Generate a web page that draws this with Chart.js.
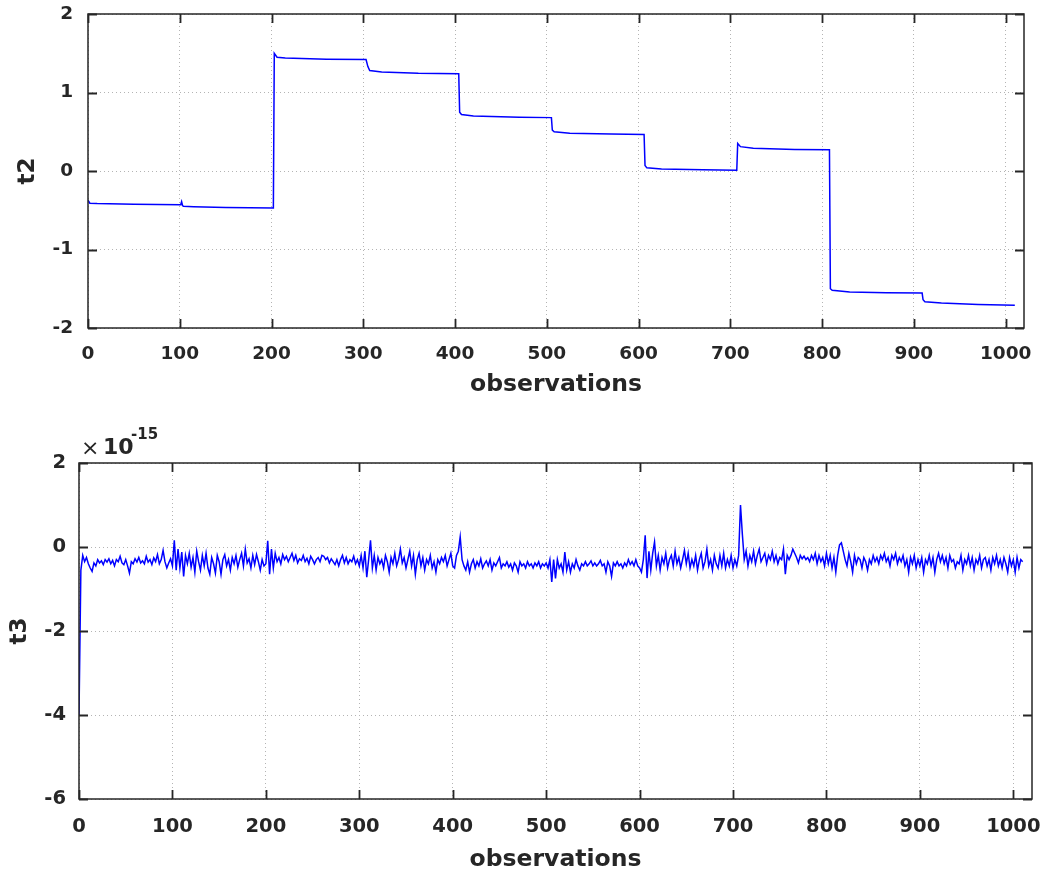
<!DOCTYPE html>
<html>
<head>
<meta charset="utf-8">
<script src="https://cdn.jsdelivr.net/npm/chart.js@4.4.0/dist/chart.umd.min.js"></script>
<style>
  html, body { margin: 0; padding: 0; background: #fff; }
  body { width: 1047px; height: 874px; position: relative; overflow: hidden; }
  canvas { position: absolute; left: 0; }
  #c1 { top: 0; }
  #c2 { top: 400px; }
  .exp { position: absolute; font-family: "DejaVu Sans", sans-serif; color: #262626; white-space: nowrap; }
</style>
</head>
<body>
<canvas id="c1" width="1047" height="400"></canvas>
<canvas id="c2" width="1047" height="474"></canvas>
<div class="exp" style="left:81px; top:436px; font-size:22px; line-height:24px;">×</div>
<div class="exp" style="left:103px; top:435px; font-size:22px; line-height:24px; font-weight:bold;">10</div>
<div class="exp" style="left:131px; top:426px; font-size:15px; line-height:16px; font-weight:bold;">-15</div>
<script>
// ---------- DATA ----------
const xTickValues = [0, 100, 200, 300, 400, 500, 600, 700, 800, 900, 1000];
const t2YTicks = [-2, -1, 0, 1, 2];
const t3YTicks = [-6, -4, -2, 0, 2];

const t2Obs = [0, 2, 10, 50, 101, 102, 103, 104, 115, 150, 202, 203, 206, 215, 260, 303, 305, 307, 320, 360, 404, 405, 407, 420, 470, 505, 506, 508, 525, 570, 606, 607, 609, 625, 670, 707, 708, 711, 725, 770, 808, 809, 811, 830, 870, 909, 910, 912, 930, 970, 1010];
const t2Values = [-0.37, -0.41, -0.415, -0.425, -0.43, -0.39, -0.44, -0.45, -0.455, -0.465, -0.47, 1.50, 1.45, 1.44, 1.425, 1.42, 1.33, 1.28, 1.26, 1.245, 1.24, 0.75, 0.72, 0.70, 0.685, 0.68, 0.52, 0.50, 0.48, 0.47, 0.465, 0.07, 0.04, 0.025, 0.015, 0.01, 0.35, 0.31, 0.29, 0.275, 0.27, -1.50, -1.52, -1.54, -1.55, -1.555, -1.64, -1.665, -1.68, -1.70, -1.71];

// t3 (x 1e-15): values every 2 observations starting at 0
const t3Step = 2;
const t3Values = [
  -4.0, -0.55, -0.2, -0.35, -0.25, -0.4, -0.5, -0.58, -0.38, -0.45,
  -0.3, -0.38, -0.33, -0.42, -0.3, -0.36, -0.28, -0.4, -0.32, -0.45,
  -0.3, -0.35, -0.22, -0.38, -0.42, -0.3, -0.45, -0.62, -0.35, -0.4,
  -0.28, -0.36, -0.25, -0.38, -0.33, -0.4, -0.22, -0.36, -0.3, -0.42,
  -0.26, -0.35, -0.18, -0.4, -0.3, -0.08, -0.35, -0.5, -0.38, -0.28,
  -0.45, 0.16, -0.55, -0.05, -0.5, -0.12, -0.7, -0.2, -0.4, -0.15,
  -0.48, -0.25, -0.6, -0.1, -0.35, -0.55, -0.2, -0.45, -0.15, -0.5,
  -0.65, -0.25, -0.4, -0.62, -0.2, -0.35, -0.65, -0.3, -0.18, -0.45,
  -0.3, -0.55, -0.25, -0.4, -0.2, -0.48, -0.3, -0.15, -0.45, -0.05,
  -0.38, -0.28, -0.5, -0.2, -0.42, -0.18, -0.35, -0.55, -0.3, -0.45,
  -0.4, 0.15, -0.65, -0.05, -0.5, -0.15, -0.35, -0.25, -0.4, -0.18,
  -0.3, -0.22, -0.35, -0.25, -0.15, -0.32, -0.2, -0.38, -0.28, -0.32,
  -0.2, -0.35, -0.27, -0.4, -0.22, -0.3, -0.4, -0.3, -0.25, -0.35,
  -0.2, -0.22, -0.3, -0.25, -0.38, -0.28, -0.35, -0.42, -0.3, -0.45,
  -0.3, -0.2, -0.38, -0.25, -0.4, -0.3, -0.35, -0.22, -0.4, -0.3,
  -0.45, -0.2, -0.5, -0.1, -0.72, -0.3, 0.16, -0.5, -0.2, -0.55,
  -0.25, -0.4, -0.3, -0.5, -0.2, -0.35, -0.6, -0.25, -0.4, -0.15,
  -0.45, -0.3, -0.05, -0.38, -0.25, -0.5, -0.3, -0.1, -0.45, -0.2,
  -0.65, -0.3, -0.15, -0.45, -0.25, -0.55, -0.3, -0.4, -0.2, -0.5,
  -0.35, -0.6, -0.3, -0.4, -0.25, -0.35, -0.2, -0.45, -0.3, -0.15,
  -0.45, -0.5, -0.2, -0.1, 0.24, -0.3, -0.45, -0.55, -0.35, -0.6,
  -0.4, -0.3, -0.5, -0.35, -0.45, -0.28, -0.5, -0.4, -0.33, -0.45,
  -0.3, -0.55, -0.38, -0.45, -0.35, -0.25, -0.5, -0.4, -0.45, -0.35,
  -0.48, -0.4, -0.55, -0.38, -0.45, -0.6, -0.35, -0.45, -0.4, -0.5,
  -0.35, -0.45, -0.4, -0.5, -0.38, -0.45, -0.35, -0.5, -0.4, -0.45,
  -0.38, -0.5, -0.3, -0.83, -0.3, -0.75, -0.3, -0.5, -0.4, -0.6,
  -0.12, -0.55, -0.35, -0.6, -0.4, -0.5, -0.3, -0.45, -0.55, -0.4,
  -0.45, -0.35, -0.45, -0.4, -0.33, -0.45, -0.38, -0.45, -0.4, -0.32,
  -0.45, -0.4, -0.6, -0.35, -0.45, -0.7, -0.38, -0.45, -0.35, -0.45,
  -0.4, -0.5, -0.38, -0.45, -0.3, -0.42, -0.35, -0.45, -0.3, -0.45,
  -0.5, -0.6, -0.3, 0.28, -0.74, -0.1, -0.55, -0.15, 0.12, -0.45,
  -0.2, -0.55, -0.25, -0.4, -0.15, -0.5, -0.3, -0.2, -0.45, -0.1,
  -0.4, -0.25, -0.5, -0.3, -0.08, -0.4, -0.15, -0.5, -0.3, -0.45,
  -0.2, -0.55, -0.3, -0.15, -0.5, -0.35, -0.05, -0.45, -0.3, -0.55,
  -0.2, -0.4, -0.5, -0.2, -0.45, -0.15, -0.5, -0.3, -0.45, -0.2,
  -0.5, -0.3, -0.45, -0.2, 1.0, 0.3, -0.3, -0.1, -0.45, -0.2,
  -0.35, -0.1, -0.4, -0.2, -0.05, -0.35, -0.25, -0.15, -0.4, -0.2,
  -0.3, -0.1, -0.35, -0.2, -0.4, -0.25, -0.3, -0.05, -0.65, -0.2,
  -0.3, -0.2, -0.05, -0.15, -0.25, -0.38, -0.2, -0.28, -0.22, -0.3,
  -0.25, -0.35, -0.2, -0.3, -0.15, -0.4, -0.2, -0.35, -0.25, -0.45,
  -0.15, -0.4, -0.2, -0.5, -0.25, -0.6, -0.2, 0.05, 0.1, -0.1,
  -0.3, -0.45, -0.15, -0.35, -0.6, -0.2, -0.4, -0.25, -0.3, -0.5,
  -0.25, -0.35, -0.55, -0.3, -0.4, -0.2, -0.35, -0.25, -0.4, -0.2,
  -0.3, -0.15, -0.35, -0.25, -0.45, -0.2, -0.3, -0.15, -0.4, -0.25,
  -0.35, -0.2, -0.45, -0.3, -0.6, -0.25, -0.4, -0.2, -0.5, -0.3,
  -0.45, -0.25, -0.6, -0.3, -0.4, -0.2, -0.45, -0.25, -0.6, -0.3,
  -0.15, -0.35, -0.2, -0.4, -0.25, -0.5, -0.2, -0.35, -0.3, -0.5,
  -0.35, -0.4, -0.2, -0.55, -0.3, -0.4, -0.2, -0.45, -0.25, -0.55,
  -0.3, -0.4, -0.2, -0.5, -0.3, -0.25, -0.45, -0.3, -0.55, -0.25,
  -0.4, -0.2, -0.45, -0.3, -0.5, -0.25, -0.4, -0.6, -0.25, -0.45,
  -0.3, -0.6, -0.25, -0.5, -0.3, -0.35
];

// ---------- STYLE / HELPERS ----------
const AXIS_COLOR = '#262626';
const FONT = '"DejaVu Sans", sans-serif';

const boxPlugin = {
  id: 'matlabBox',
  afterDraw(chart) {
    const {ctx, chartArea: a, scales} = chart;
    ctx.save();
    ctx.strokeStyle = AXIS_COLOR;
    ctx.lineWidth = 1.5;
    ctx.strokeRect(a.left, a.top, a.right - a.left, a.bottom - a.top);
    const tl = 9;
    ctx.beginPath();
    scales.x.ticks.forEach(t => {
      const px = Math.round(scales.x.getPixelForValue(t.value)) + 0.5;
      ctx.moveTo(px, a.bottom); ctx.lineTo(px, a.bottom - tl);
      ctx.moveTo(px, a.top); ctx.lineTo(px, a.top + tl);
    });
    scales.y.ticks.forEach(t => {
      const py = Math.round(scales.y.getPixelForValue(t.value)) + 0.5;
      ctx.moveTo(a.left, py); ctx.lineTo(a.left + tl, py);
      ctx.moveTo(a.right, py); ctx.lineTo(a.right - tl, py);
    });
    ctx.lineWidth = 1.8;
    ctx.stroke();
    ctx.restore();
  }
};

function makeChart(id, cfg) {
  return new Chart(document.getElementById(id), {
    type: 'line',
    data: {
      datasets: [{
        data: cfg.points,
        borderColor: '#0000ff',
        borderWidth: 1.5,
        pointRadius: 0,
        tension: 0,
        fill: false
      }]
    },
    options: {
      responsive: false,
      animation: false,
      devicePixelRatio: 1,
      layout: { padding: { left: 0, top: cfg.padTop, right: cfg.padRight, bottom: 0 } },
      plugins: { legend: { display: false }, tooltip: { enabled: false } },
      scales: {
        x: {
          type: 'linear',
          min: 0, max: 1020,
          afterFit: s => { s.height = cfg.xHeight; s.paddingLeft = 0; s.paddingRight = 0; },
          afterBuildTicks: s => { s.ticks = xTickValues.map(v => ({ value: v })); },
          ticks: { padding: cfg.xTickPad, color: AXIS_COLOR, font: { family: FONT, size: cfg.tickSize, weight: 'bold' }, maxRotation: 0, autoSkip: false, callback: v => String(v) },
          grid: { color: '#b4b4b4', lineWidth: 1, drawTicks: false },
          border: { display: false, dash: [1, 3] },
          title: { display: true, text: 'observations', color: AXIS_COLOR, font: { family: FONT, size: 23.5, weight: 'bold' }, padding: { top: 0, bottom: cfg.xTitlePad } }
        },
        y: {
          type: 'linear',
          min: cfg.yMin, max: cfg.yMax,
          afterFit: s => { s.width = cfg.yWidth; s.paddingTop = 0; s.paddingBottom = 0; },
          afterBuildTicks: s => { s.ticks = cfg.yTicks.map(v => ({ value: v })); },
          ticks: { padding: cfg.yTickPad, color: AXIS_COLOR, font: { family: FONT, size: cfg.tickSize, weight: 'bold' }, callback: v => String(v) },
          grid: { color: '#b4b4b4', lineWidth: 1, drawTicks: false },
          border: { display: false, dash: [1, 3] },
          title: { display: true, text: cfg.yTitle, color: AXIS_COLOR, font: { family: FONT, size: 23, weight: 'bold' }, padding: { top: cfg.yTitlePad, bottom: 0 } }
        }
      }
    },
    plugins: [boxPlugin]
  });
}

const t2Points = t2Obs.map((x, i) => ({ x: x, y: t2Values[i] }));
const t3Points = t3Values.map((v, i) => ({ x: i * t3Step, y: v }));

makeChart('c1', {
  points: t2Points, padTop: 14, padRight: 23, xHeight: 72, yWidth: 88,
  yMin: -2, yMax: 2, yTicks: t2YTicks, yTitle: 't2',
  tickSize: 18.5, xTickPad: 15, yTickPad: 15, xTitlePad: 1, yTitlePad: 14
});
makeChart('c2', {
  points: t3Points, padTop: 63, padRight: 15, xHeight: 75, yWidth: 79,
  yMin: -6, yMax: 2, yTicks: t3YTicks, yTitle: 't3',
  tickSize: 19.5, xTickPad: 16, yTickPad: 13, xTitlePad: 0, yTitlePad: 6
});
</script>
</body>
</html>
